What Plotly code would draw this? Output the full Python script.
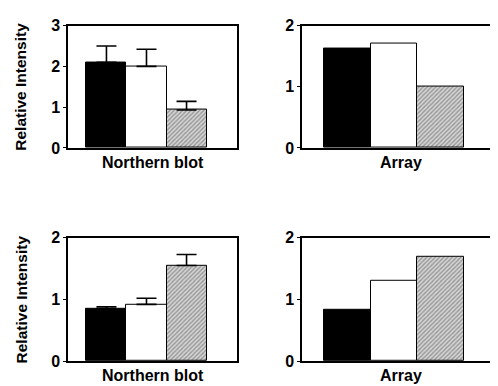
import plotly.graph_objects as go

positions = [0, 1, 2]
nb1_values = [2.1, 2.0, 0.93]
nb1_errors = [0.4, 0.42, 0.21]
ar1_values = [1.62, 1.70, 1.00]
nb2_values = [0.85, 0.92, 1.55]
nb2_errors = [0.03, 0.10, 0.18]
ar2_values = [0.84, 1.30, 1.70]
y_label = "Relative Intensity"
x_labels = ["Northern blot", "Array", "Northern blot", "Array"]

FONT = "Liberation Sans, Arial, sans-serif"

def colors():
    return ["black", "white", "#d8d8d8"]

def add_bars(fig, vals, errs, xa, ya):
    for i, (p, v) in enumerate(zip(positions, vals)):
        pattern = dict(shape="")
        if i == 2:
            pattern = dict(shape="/", bgcolor="#d6d6d6", fgcolor="#555555", size=3, solidity=0.45)
        err = None
        if errs is not None:
            err = dict(type="data", symmetric=False, array=[errs[i]], arrayminus=[0],
                       color="black", thickness=1.6, width=10, visible=True)
        fig.add_trace(go.Bar(
            x=[p], y=[v], width=1.0, xaxis=xa, yaxis=ya,
            marker=dict(color=colors()[i], line=dict(color="black", width=1), pattern=pattern),
            error_y=err, showlegend=False, hoverinfo="skip"))

fig = go.Figure()
add_bars(fig, nb1_values, nb1_errors, "x", "y")
add_bars(fig, ar1_values, None, "x2", "y2")
add_bars(fig, nb2_values, nb2_errors, "x3", "y3")
add_bars(fig, ar2_values, None, "x4", "y4")

xdom_l = [60/498, 229/498]
xdom_r = [294/498, 492/498]
ydom_t = [1-138/386, 1-10/386]
ydom_b = [1-361/386, 1-232/386]

xr = [-0.96, 3.26]
axis_common = dict(showline=True, linecolor="black", linewidth=1.5, mirror=True,
                   showgrid=False, zeroline=False)
xcommon = dict(axis_common, range=xr, showticklabels=False, ticks="")
ycommon = dict(axis_common, ticks="outside", ticklen=3, tickwidth=1.2, tickcolor="black",
               tickfont=dict(family=FONT, size=16, color="black", weight="bold"), dtick=1)

fig.update_layout(
    width=498, height=386, margin=dict(l=0, r=0, t=0, b=0),
    paper_bgcolor="white", plot_bgcolor="white", bargap=0,
    xaxis=dict(xcommon, domain=xdom_l, anchor="y"),
    yaxis=dict(ycommon, domain=ydom_t, anchor="x", range=[0, 3]),
    xaxis2=dict(xcommon, domain=xdom_r, anchor="y2"),
    yaxis2=dict(ycommon, domain=ydom_t, anchor="x2", range=[0, 2]),
    xaxis3=dict(xcommon, domain=xdom_l, anchor="y3"),
    yaxis3=dict(ycommon, domain=ydom_b, anchor="x3", range=[0, 2]),
    xaxis4=dict(xcommon, domain=xdom_r, anchor="y4"),
    yaxis4=dict(ycommon, domain=ydom_b, anchor="x4", range=[0, 2]),
)

ann = []
for xd, yd, lab in [(xdom_l, ydom_t, x_labels[0]), (xdom_r, ydom_t, x_labels[1]),
                    (xdom_l, ydom_b, x_labels[2]), (xdom_r, ydom_b, x_labels[3])]:
    ann.append(dict(text=lab, x=(xd[0]+xd[1])/2, y=yd[0], xref="paper", yref="paper",
                    xanchor="center", yanchor="top", yshift=-4, showarrow=False,
                    font=dict(family=FONT, size=16, color="black", weight="bold")))
for yd in [ydom_t, ydom_b]:
    ann.append(dict(text=y_label, x=13/498, y=(yd[0]+yd[1])/2, xref="paper", yref="paper",
                    xanchor="center", yanchor="middle", textangle=-90, showarrow=False,
                    font=dict(family=FONT, size=15.5, color="black", weight="bold")))
fig.update_layout(annotations=ann)

fig.write_html("out.html")
